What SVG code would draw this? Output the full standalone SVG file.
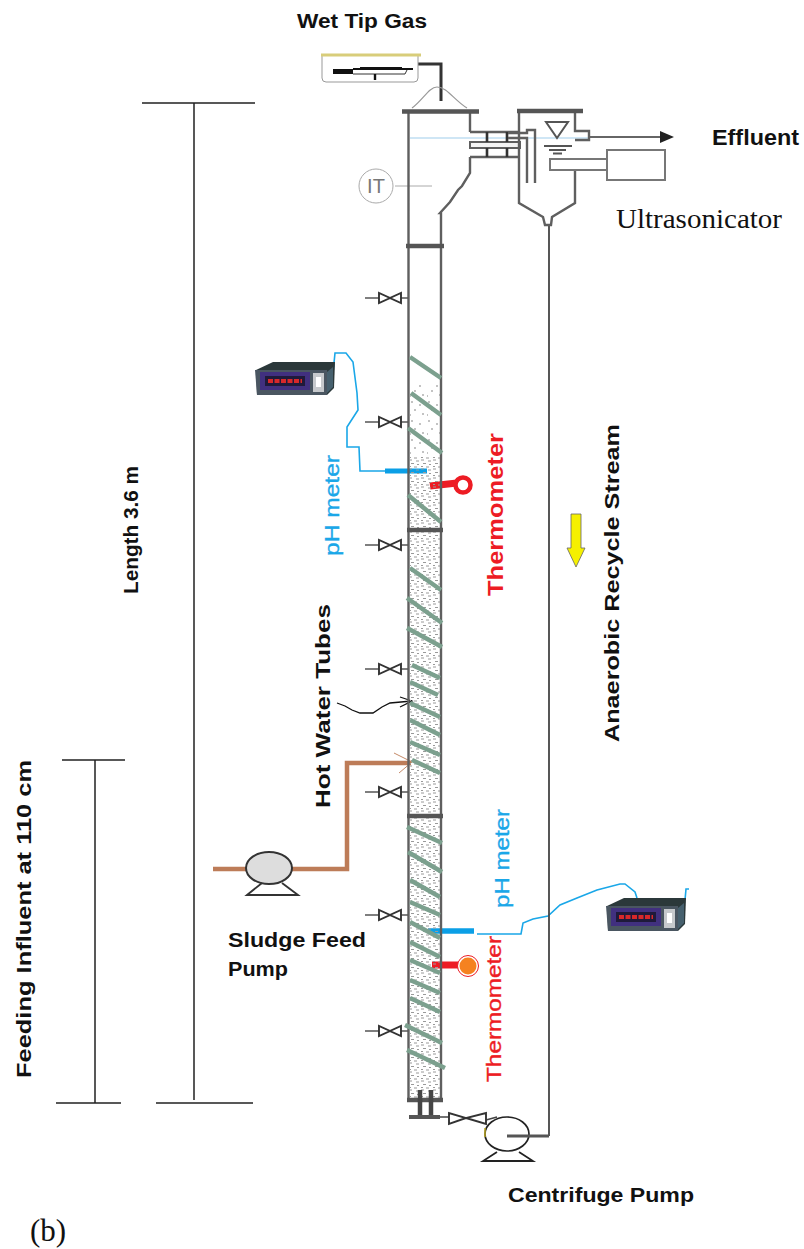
<svg xmlns="http://www.w3.org/2000/svg" width="804" height="1249" viewBox="0 0 804 1249">
<defs>
<style>
text{font-family:"Liberation Sans",Arial,sans-serif}
.serif{font-family:"Liberation Serif","Times New Roman",serif;fill:#111}
.b{font-weight:700;fill:#111}
.med{stroke-width:0.35}
.wall{fill:none;stroke:#5e5e5e;stroke-width:2.4}
.fl{stroke:#555;stroke-width:4.5;fill:none}
.tube{stroke:#7ba08e;stroke-width:4.5;fill:none}
.dim{stroke:#222;stroke-width:1.5;fill:none}
.thin{stroke:#444;stroke-width:1.6;fill:none}
.ph{stroke:#1aa7e8;stroke-width:1.6;fill:none}
.v{stroke:#333;stroke-width:1.9;fill:#fff}
.br{fill:none;stroke:#bd7c58;stroke-width:4.5}
</style>
<filter id="soft" x="-5%" y="-5%" width="110%" height="110%"><feGaussianBlur stdDeviation="0.45"/></filter>
<pattern id="st" width="12" height="9" patternUnits="userSpaceOnUse"><path d="M1 1h3M8 2h3M3 4.500h3M9 5.500h2M1 7.500h2M6 8h3" stroke="#9a9a9a" stroke-width="1"/></pattern>
<pattern id="sp" width="17" height="19" patternUnits="userSpaceOnUse"><path d="M3 3h2M11 6h2M6 11h2M14 15h2M2 16h1" stroke="#888" stroke-width="1.2"/></pattern>
<g id="valve"><path d="M-25 0H-11M11 0H18" stroke="#555" stroke-width="1.6"/><path d="M-11 -5V5L0 0ZM11 -5V5L0 0Z" class="v"/></g>
<g id="meter"><path d="M1 8L18 0H80L79 26L72 33H2Z" fill="#2b383a"/><path d="M0 8H72V33H2Z" fill="#4a5661"/><rect x="5" y="10" width="50" height="18" fill="#41307f"/><rect x="10" y="14" width="40" height="10" fill="#1f1a3a"/><path d="M13 19h34" stroke="#d8282a" stroke-width="4" stroke-dasharray="5 1.5"/><rect x="58" y="11" width="11" height="19" fill="#c6c9cc"/><rect x="61" y="15" width="5" height="10" fill="#fff"/><path d="M72 10L78 5V25L72 31Z" fill="#46606e"/></g>
</defs>
<rect width="804" height="1249" fill="#fff"/>

<g id="connectors">
<path class="dim" d="M142 103H255M194 103V1100M156 1103H253M62 760H125M95 760V1103M56 1103H121"/>
<path class="br" d="M213 869H248M288 869H347V763H411"/>
<path d="M394 753L412 762L399 773" fill="none" stroke="#c58a68" stroke-width="1"/>
<path d="M337 703L345 706L352 710L360 713L373 713L382 707L390 703L412 701M400 697L412 701L400 707" fill="none" stroke="#111" stroke-width="1.3"/>
<path class="ph" d="M333 373L335 353H346L353 362L357 393L358 410L347 427V447H359L360 471H385"/>
<path d="M385 471H427" stroke="#0b9fe6" stroke-width="5" fill="none"/>
<path d="M428 931H474" stroke="#0b9fe6" stroke-width="5.5" fill="none"/>
<path class="ph" d="M477 934H521L523 923L533 919L548 916L560 905L577 898L597 890L620 884H625L635 892L637 898M685 900L686 889H689"/>
<path d="M430 486L457 483" stroke="#ed1c24" stroke-width="7" fill="none"/>
<path d="M432 965H460" stroke="#ed1c24" stroke-width="7" fill="none"/>
<path d="M418 64H441V101" stroke="#333" stroke-width="3" fill="none"/>
<path d="M549 226V1136" stroke="#444" stroke-width="1.8" fill="none"/>
<path d="M590 137H662" stroke="#333" stroke-width="1.6"/>
<path d="M660 131L674 137L660 143Z" fill="#222"/>
<path d="M395 186H432" stroke="#aaa" stroke-width="1" fill="none"/>
<path d="M410 138H588" stroke="#9fcdec" stroke-width="1.2" fill="none"/>
<path d="M440 1117H450M486 1120L497 1117" class="thin"/>
</g>

<g id="reactor" filter="url(#soft)">
<rect x="410" y="385" width="30" height="72" fill="url(#sp)"/>
<rect x="410" y="457" width="30" height="643" fill="url(#st)"/>
<path class="wall" d="M408.500 112V1101M470 113V132M470 157V173L462 186L458 190L450 202L440 213H441V1101"/>
<path class="fl" d="M402 111.500H479M406 246H444M407 530H443M407 816H443M407 1100H443"/>
<path d="M412 108C423 100 429 87 437 87C447 87 454 100 467 108" fill="none" stroke="#999" stroke-width="1.2"/>
<path class="tube" d="M410 357L441 378M411 393L441 415M408 428L442 453M408 495L441 522M410 568L441 590M407 598L442 623M407 628L442 647M412 665L440 678M410 682L438 695M410 703L440 717M410 720L440 735M410 742L440 755M412 760L440 773M407 827L442 843M408 852L442 872M410 880L440 897M410 902L440 915M410 922L440 938M410 942L440 957M410 960L440 973M410 980L440 993M410 998L440 1012M405 1025L442 1043M407 1050L445 1068"/>
<path d="M420 1090V1117M431 1090V1117" stroke="#444" stroke-width="4.5"/>
<path d="M409 1117H440" stroke="#555" stroke-width="4"/>
</g>

<g id="connect-pipes" filter="url(#soft)">
<path class="wall" d="M470 132H519M470 157H519"/>
<rect x="470" y="142" width="50" height="6" fill="#f4f4f4" stroke="#5e5e5e" stroke-width="2"/>
<path d="M487 132V142M487 148V157M507 132V142M507 148V157" stroke="#333" stroke-width="2.6"/>
</g>

<g id="clarifier" filter="url(#soft)">
<path class="wall" d="M519 113V203L543 217L545 225H551L552 217L575 203V158M575 113V131H589V140H575"/>
<path class="fl" d="M517 111H583"/>
<path class="wall" d="M508 133H527V130H535V183M508 138H527V183"/>
<path d="M546 122H568L557 138Z" fill="#fff" stroke="#555" stroke-width="2"/>
<path d="M544 146H572M549 150H566M553 153.500H562" stroke="#555" stroke-width="1.8"/>
</g>

<g id="ultrasonicator"><rect x="550" y="159" width="57" height="11" fill="#fff" stroke="#777" stroke-width="2"/><rect x="607" y="150" width="58" height="30" fill="#fff" stroke="#777" stroke-width="2"/></g>

<g id="wet-tip"><path d="M322 56V78Q322 82 326 82H414Q418 82 418 78V56" fill="#fff" stroke="#999"/><path d="M321 55H421" stroke="#d8cd7a" stroke-width="3"/><rect x="333" y="69" width="20" height="5" fill="#111"/><path d="M353 69H413M360 68H402" stroke="#111" stroke-width="2" fill="none"/><path d="M353 74H405L407 70" stroke="#333" stroke-width="1" fill="none"/><path d="M375 74V80" stroke="#111" stroke-width="2.4"/></g>

<g id="it"><circle cx="376" cy="186" r="17" fill="#fff" stroke="#aaa"/><text x="376" y="193" font-size="20" fill="#777" text-anchor="middle">IT</text></g>

<g id="valves">
<use href="#valve" x="390" y="298"/><use href="#valve" x="390" y="422"/><use href="#valve" x="390" y="545"/><use href="#valve" x="390" y="669"/><use href="#valve" x="390" y="792"/><use href="#valve" x="390" y="915"/><use href="#valve" x="390" y="1031"/>
<path d="M449 1113V1124L466 1118ZM486 1113V1124L466 1118Z" class="v"/>
</g>

<g id="meter-top"><use href="#meter" x="255" y="362"/></g>
<g id="meter-bottom"><use href="#meter" x="606" y="898"/></g>

<g id="therm-top"><circle cx="463" cy="485" r="7.500" fill="#fff" stroke="#ed1c24" stroke-width="4.500"/></g>
<g id="therm-bottom"><circle cx="468" cy="966" r="10.500" fill="#fff" stroke="#ed1c24"/><circle cx="468" cy="966" r="8.500" fill="#f58220"/></g>

<g id="sludge-pump"><ellipse cx="269" cy="868" rx="23" ry="16" fill="#ddd" stroke="#333" stroke-width="2"/><path d="M262 883L247 895H298L282 883" fill="none" stroke="#333" stroke-width="1.9"/></g>
<g id="centrifuge-pump"><ellipse cx="507" cy="1134" rx="22" ry="17" fill="none" stroke="#222" stroke-width="1.7"/><path d="M497 1152L483 1161H533L519 1152" fill="none" stroke="#222" stroke-width="1.8"/><path d="M507 1136H549" stroke="#555" stroke-width="3"/><path d="M485 1128V1137" stroke="#b9a520" stroke-width="1.500"/></g>

<path id="recycle-arrow" d="M571 514H581V548H585L576 567L567 548H571Z" fill="#f5f000" stroke="#666" stroke-width="0.8"/>

<g id="labels">
<text class="b" x="297" y="28" font-size="20" textLength="130" lengthAdjust="spacingAndGlyphs">Wet Tip Gas</text>
<text class="b" x="712" y="145" font-size="22" textLength="87" lengthAdjust="spacingAndGlyphs">Effluent</text>
<text class="serif" x="616" y="228" font-size="27" textLength="166" lengthAdjust="spacingAndGlyphs">Ultrasonicator</text>
<text class="b" transform="translate(138 594) rotate(-90)" font-size="21" textLength="128" lengthAdjust="spacingAndGlyphs">Length 3.6 m</text>
<text class="b" transform="translate(31 1078) rotate(-90)" font-size="21" textLength="318" lengthAdjust="spacingAndGlyphs">Feeding Influent at 110 cm</text>
<text class="b" transform="translate(330 808) rotate(-90)" font-size="21" textLength="204" lengthAdjust="spacingAndGlyphs">Hot Water Tubes</text>
<text class="med" transform="translate(339 556) rotate(-90)" font-size="21" fill="#1aa7e8" stroke="#1aa7e8" textLength="101" lengthAdjust="spacingAndGlyphs">pH meter</text>
<text class="med" transform="translate(509 908) rotate(-90)" font-size="21" fill="#1aa7e8" stroke="#1aa7e8" textLength="99" lengthAdjust="spacingAndGlyphs">pH meter</text>
<text transform="translate(503 596) rotate(-90)" font-size="22" font-weight="700" fill="#ed1c24" textLength="163" lengthAdjust="spacingAndGlyphs">Thermometer</text>
<text class="med" transform="translate(501 1082) rotate(-90)" font-size="20" fill="#ed1c24" stroke="#ed1c24" textLength="146" lengthAdjust="spacingAndGlyphs">Thermometer</text>
<text class="b" transform="translate(619 742) rotate(-90)" font-size="21" textLength="318" lengthAdjust="spacingAndGlyphs">Anaerobic Recycle Stream</text>
<text class="b" x="228" y="947" font-size="21" textLength="138" lengthAdjust="spacingAndGlyphs">Sludge Feed</text>
<text class="b" x="228" y="976" font-size="21" textLength="60" lengthAdjust="spacingAndGlyphs">Pump</text>
<text class="b" x="508" y="1202" font-size="21" textLength="186" lengthAdjust="spacingAndGlyphs">Centrifuge Pump</text>
<text class="serif" x="30" y="1241" font-size="31">(b)</text>
</g>
</svg>
